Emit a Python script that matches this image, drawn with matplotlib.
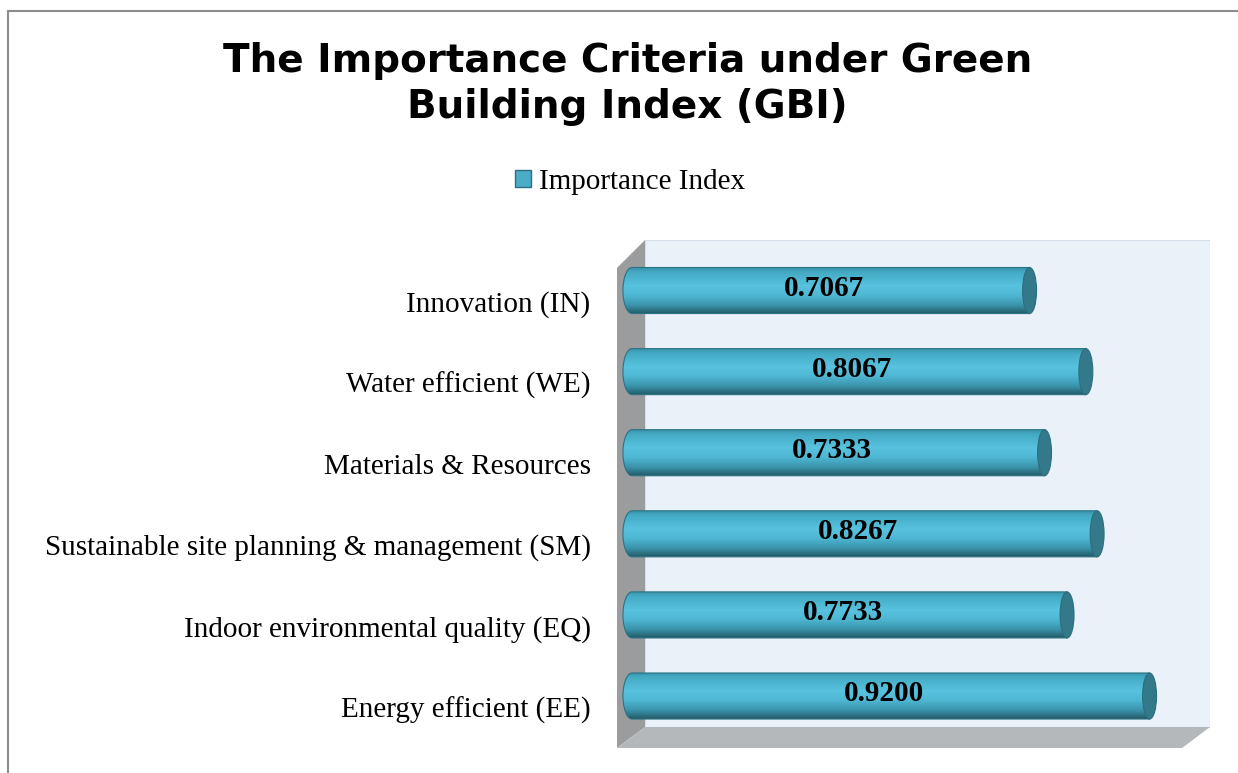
import numpy as np
import matplotlib.pyplot as plt
from matplotlib.patches import Polygon, Ellipse, Patch, PathPatch
from matplotlib.path import Path
from matplotlib.lines import Line2D
from matplotlib.colors import LinearSegmentedColormap

# data (bottom to top)
categories = ["Energy efficient (EE)", "Indoor environmental quality (EQ)",
              "Sustainable site planning & management (SM)", "Materials & Resources",
              "Water efficient (WE)", "Innovation (IN)"]
values = [0.9200, 0.7733, 0.8267, 0.7333, 0.8067, 0.7067]
series_name = "Importance Index"

W, H = 1238, 773
fig = plt.figure(figsize=(W / 100, H / 100), dpi=100)

# plot box in pixels: x 617..1210, y 240..748
ax = fig.add_axes([617 / W, 1 - 748 / H, 593 / W, 508 / H])

# fake 3d walls (axes fraction)
back = Polygon([(0.0472, 0.0413), (1, 0.0413), (1, 1), (0.0472, 1)], closed=True,
               facecolor="#EAF1F9", edgecolor="#D3DEE8", lw=0.8, transform=ax.transAxes, zorder=0)
side = Polygon([(0, 0), (0.0472, 0.0413), (0.0472, 1), (0, 0.945)], closed=True,
               facecolor="#9B9C9E", edgecolor="none", transform=ax.transAxes, zorder=0)
floor = Polygon([(0, 0), (0.953, 0), (1, 0.0413), (0.0472, 0.0413)], closed=True,
                facecolor="#B5B8BB", edgecolor="none", transform=ax.transAxes, zorder=0)
for p in (back, side, floor):
    ax.add_patch(p)

# cylinder shading, top -> bottom
cyl = LinearSegmentedColormap.from_list("cyl", [
    (0.0, "#3690A6"), (0.1, "#44AAC4"), (0.4, "#58C3DF"), (0.6, "#4FB7D3"),
    (0.82, "#3A93AA"), (1.0, "#245A68")])
grad = np.linspace(0, 1, 64).reshape(-1, 1)

h = 0.284
a = 0.0124
theta = np.linspace(1.5 * np.pi, 0.5 * np.pi, 40)
for i, v in enumerate(values):
    yc = i
    verts = [(0, yc + h), (v, yc + h), (v, yc - h), (0, yc - h)]
    verts += [(a * 1.3 * np.cos(t), yc + h * np.sin(t)) for t in theta[1:]]
    path = Path(verts, closed=False)
    body = PathPatch(path, facecolor="none", edgecolor="#2C7383", lw=0.8, zorder=3)
    ax.add_patch(body)
    im = ax.imshow(grad, cmap=cyl, aspect="auto", origin="upper",
                   extent=[-1.3 * a, v + a, yc - h, yc + h], interpolation="bilinear", zorder=2)
    im.set_clip_path(body)
    cap = Ellipse((v, yc), 2 * a, 2 * h, facecolor="#33798A", edgecolor="#2C6F7F",
                  lw=0.8, zorder=4)
    ax.add_patch(cap)
    ax.text(v / 2 - 0.012, yc + 0.03, f"{v:.4f}", ha="center", va="center",
            fontsize=21, fontweight="bold", family="Liberation Serif", zorder=5)

ax.set_xlim(-0.0267, 1.0274)
ax.set_ylim(-0.641, 5.623)
ax.set_xticks([])
# labels sit on the front plane, a bit below the bar centres
ax.set_yticks([i - 0.136 for i in range(len(categories))])
ax.set_yticklabels(categories, family="Liberation Serif", fontsize=21)
ax.tick_params(axis="y", length=0, pad=19)
for s in ax.spines.values():
    s.set_visible(False)
ax.patch.set_visible(False)

fig.text(627.5 / W, 1 - 84 / H, "The Importance Criteria under Green\nBuilding Index (GBI)",
         ha="center", va="center", fontsize=28, fontweight="bold",
         family="DejaVu Sans", linespacing=1.25)

fig.legend(handles=[Patch(facecolor="#4BACC6", edgecolor="#2F6E80", label=series_name)],
           loc="center", bbox_to_anchor=(630 / W, 1 - 182 / H), frameon=False,
           prop={"family": "Liberation Serif", "size": 21},
           handlelength=0.55, handleheight=0.55, handletextpad=0.3)

# outer border (top and left visible)
fig.add_artist(Line2D([8 / W, 1], [1 - 10.5 / H, 1 - 10.5 / H], color="#8C8C8C", lw=1.5))
fig.add_artist(Line2D([8 / W, 8 / W], [0, 1 - 10.5 / H], color="#8C8C8C", lw=1.5))

fig.savefig("out.png", dpi=100)
